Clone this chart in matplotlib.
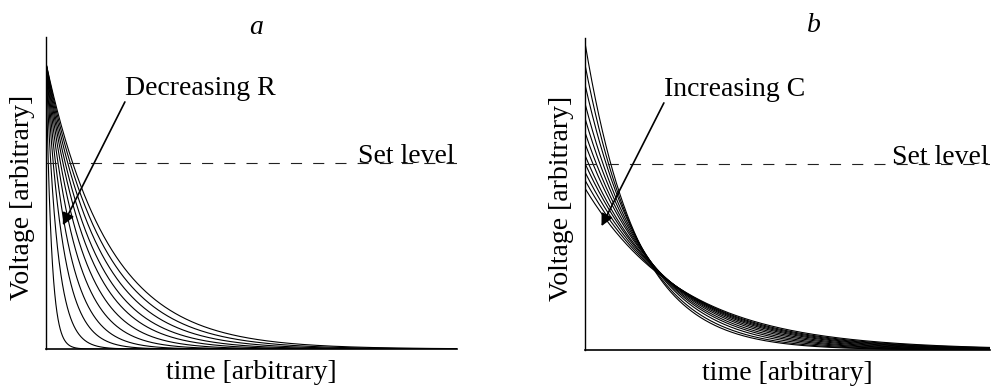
import numpy as np
import matplotlib
matplotlib.use("Agg")
import matplotlib.pyplot as plt

# panel a: same start voltage, time constants get shorter as R decreases
v0_a = 0.917
tau_a = [0.151, 0.137, 0.123, 0.109, 0.096, 0.082, 0.068, 0.054, 0.041, 0.027, 0.013]

# panel b: start voltage drops and time constant grows as C increases
v0_b = [0.987, 0.917, 0.853, 0.792, 0.744, 0.699, 0.663, 0.625, 0.599, 0.571, 0.545, 0.519]
tau_b = [0.127, 0.136, 0.147, 0.158, 0.168, 0.179, 0.189, 0.200, 0.209, 0.219, 0.229, 0.241]

set_level = 0.595
panel_titles = ["a", "b"]
arrow_texts = ["Decreasing R", "Increasing C"]
xlabel = "time [arbitrary]"
ylabel = "Voltage [arbitrary]"

plt.rcParams['font.family'] = ['Liberation Serif', 'DejaVu Serif']

fig = plt.figure(figsize=(9.93, 3.88), dpi=100)
ax_a = fig.add_axes([0.0463, 0.1005, 0.4139, 0.804])
ax_b = fig.add_axes([0.589, 0.098, 0.408, 0.804])

t = np.linspace(0, 1, 1500)

for tau in tau_a:
    ax_a.plot(t, v0_a * np.exp(-t / tau), color='black', lw=0.8)

for v0, tau in zip(v0_b, tau_b):
    ax_b.plot(t, v0 * np.exp(-t / tau), color='black', lw=0.8)

for ax, title, label, tx in zip([ax_a, ax_b], panel_titles, arrow_texts, [0.192, 0.195]):
    ax.set_xlim(0, 1)
    ax.set_ylim(0, 1)
    ax.set_xticks([])
    ax.set_yticks([])
    ax.spines['top'].set_visible(False)
    ax.spines['right'].set_visible(False)
    ax.spines['left'].set_linewidth(1.0)
    ax.spines['bottom'].set_linewidth(1.2)

    # set level line, text sits on it
    ax.axhline(set_level, color='#222222', lw=0.8, dashes=(10, 10))
    ax.text(0.758, set_level + 0.002, "Set level", fontsize=20, ha='left', va='baseline')

    # arrow with its label
    ax.annotate("", xy=(0.041, 0.397), xytext=(tx, 0.792),
                arrowprops=dict(arrowstyle='-|>', color='black', lw=1.2,
                                mutation_scale=18, shrinkA=0, shrinkB=0))
    ax.text(tx, 0.815, label, fontsize=20, ha='left', va='baseline')

    ax.set_ylabel(ylabel, fontsize=20)
    ax.yaxis.label.set_verticalalignment('center')
    ax.yaxis.set_label_coords(-0.058, 0.485)
    ax.set_xlabel(xlabel, fontsize=20)
    ax.xaxis.label.set_verticalalignment('center')
    ax.xaxis.set_label_coords(0.5, -0.074)

fig.text(256 / 993, 1 - 27 / 388, panel_titles[0], fontsize=20, style='italic',
         ha='center', va='center')
fig.text(814 / 993, 1 - 25 / 388, panel_titles[1], fontsize=20, style='italic',
         ha='center', va='center')

fig.savefig("out.png", dpi=100)
